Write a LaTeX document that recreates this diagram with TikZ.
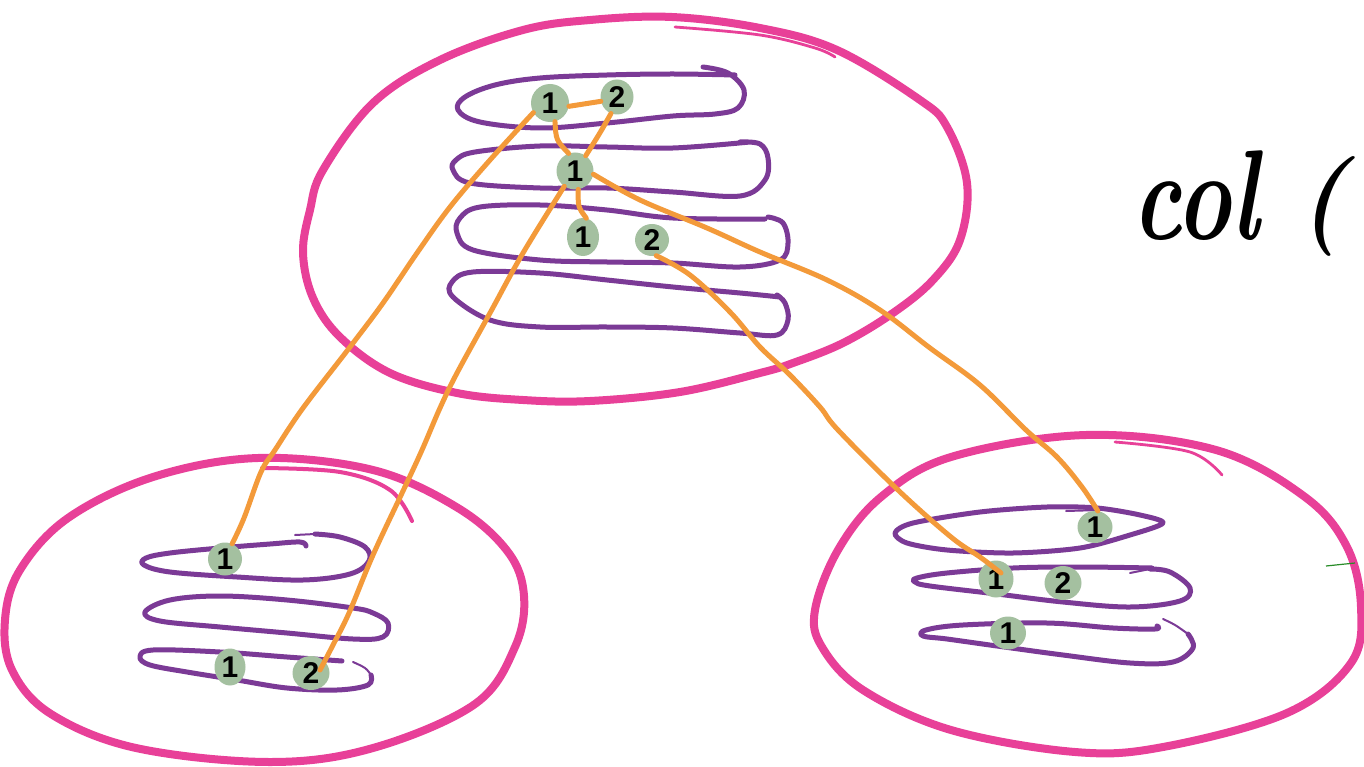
\documentclass[tikz,border=0pt]{standalone}
\usepackage{fontspec}
\newfontfamily\digitfont{Liberation Sans}
\usetikzlibrary{shapes.geometric,calc}
\definecolor{ringpink}{RGB}{232,64,152}
\definecolor{coilpurple}{RGB}{123,58,150}
\definecolor{linkorange}{RGB}{243,154,58}
\definecolor{dotgreen}{RGB}{164,192,160}
\definecolor{tickgreen}{RGB}{40,140,40}
% digit drawn without widening its dot
\newcommand\dotdigit[1]{\makebox[0pt]{\raisebox{-0.36em}[0pt][0pt]{#1}}}

\begin{document}
\begin{tikzpicture}[x=1pt,y=-1pt,
  ring/.style={draw=ringpink, line width=8pt, line cap=round, line join=round},
  ringthin/.style={draw=ringpink, line width=2.8pt, line cap=round},
  coil/.style={draw=coilpurple, line width=5pt, line cap=round, line join=round},
  coilthin/.style={draw=coilpurple, line width=2pt, line cap=round},
  link/.style={draw=linkorange, line width=5pt, line cap=round, line join=round},
  dot/.style={ellipse, fill=dotgreen, inner sep=0pt,
    font=\digitfont\bfseries\fontsize{30}{30}\selectfont},
]
\useasboundingbox (0,0) rectangle (1364,767);
\fill[white] (0,0) rectangle (1364,767);

% ---- pink rings ----
\draw[ring] plot[smooth cycle, tension=.6] coordinates {
  (303,253) (310,210) (323,170) (373,103) (440,60) (523,30) (590,20) (672,17)
  (760,28) (837,50) (920,100) (947,127) (967,183) (960,240) (933,280) (893,313)
  (843,343) (793,363) (760,373) (680,392) (590,401) (523,400) (457,393) (390,373)
  (340,337) (313,298)};
\draw[ringthin] plot[smooth, tension=.6] coordinates {(675,27) (760,35) (815,48) (835,57)};

\draw[ring] plot[smooth cycle, tension=.6] coordinates {
  (5,620) (20,570) (68,518) (153,477) (258,458) (373,470) (458,508) (508,552)
  (524,596) (515,647) (475,704) (373,748) (270,762) (136,748) (51,714) (12,670)};
\draw[ringpink, line width=4pt, line cap=round] plot[smooth, tension=.6]
  coordinates {(262,468) (340,472) (390,490) (412,521)};

\draw[ring] plot[smooth cycle, tension=.6] coordinates {
  (815,610) (838,550) (881,497) (951,457) (1086,435) (1216,450) (1305,497)
  (1347,547) (1361,607) (1351,663) (1287,713) (1163,747) (1075,752) (951,730)
  (863,690) (822,647)};
\draw[ringthin] plot[smooth, tension=.6] coordinates {(1115,442) (1190,452) (1222,475)};

\draw[tickgreen, line width=1.2pt] (1326,566) -- (1355,563);

% ---- purple coils, top group ----
\draw[coil] plot[smooth, tension=.6] coordinates {(703,67) (728,73) (744,90) (738,108)
  (715,114) (673,116) (607,123) (540,128) (480,122) (458,110) (465,97) (495,85)
  (540,78) (607,75) (673,74) (735,75)};
\draw[coil] plot[smooth, tension=.6] coordinates {(740,142) (760,144) (768,158) (765,180)
  (740,196) (673,192) (607,188) (540,188) (470,183) (453,170) (456,160) (475,152)
  (540,146) (607,147) (673,148) (750,142)};
\draw[coil] plot[smooth, tension=.6] coordinates {(768,217) (783,223) (788,243) (780,260)
  (740,267) (673,263) (607,262) (540,260) (473,250) (457,233) (460,218) (480,207)
  (540,205) (607,210) (673,218) (765,219)};
\draw[coil] plot[smooth, tension=.6] coordinates {(777,295) (785,303) (788,320) (777,335)
  (740,333) (673,328) (607,327) (540,327) (490,320) (453,297) (452,282) (473,272)
  (540,273) (607,280) (673,287) (740,293) (780,297)};

% ---- purple coils, lower left group ----
\draw[coil] plot[smooth, tension=.6] coordinates {(306,546) (300,542) (270,544) (220,548)
  (170,553) (146,558) (144,565) (170,572) (237,577) (303,580) (350,574) (369,561)
  (365,547) (340,537) (315,534)};
\draw[coilthin] (315,534) -- (295,535);
\draw[coil] plot[smooth cycle, tension=.6] coordinates {(373,613) (353,608) (287,600)
  (220,596) (170,600) (145,612) (160,621) (220,627) (287,633) (353,639) (383,637) (388,623)};
\draw[coil] plot[smooth, tension=.6] coordinates {(342,661) (287,657) (220,652) (153,650)
  (140,657) (150,665) (187,672) (237,680) (287,688) (337,690) (368,685) (371,675)};
\draw[coilthin] plot[smooth, tension=.6] coordinates {(371,675) (365,668) (353,662)};

% ---- purple coils, lower right group ----
\draw[coil] plot[smooth cycle, tension=.5] coordinates {(1163,523) (1140,515) (1097,508)
  (1047,507) (980,512) (913,523) (895,533) (907,543) (947,550) (1013,553) (1080,548)
  (1130,535)};
\draw[coilthin] (1066,511) -- (1100,510);
\draw[coil] plot[smooth, tension=.6] coordinates {(1152,568) (1080,567) (1013,568)
  (947,573) (917,578) (915,582) (930,586) (997,594) (1063,602) (1130,607) (1180,601)
  (1190,588) (1170,572) (1150,569)};
\draw[coilthin] (1150,569) -- (1130,573);
\draw[coil] plot[smooth, tension=.6] coordinates {(1157,626) (1155,629) (1113,628)
  (1047,623) (963,625) (926,630) (923,636) (947,639) (997,646) (1063,655) (1130,663)
  (1173,662) (1193,648) (1188,634)};
\draw[coilthin] plot[smooth, tension=.6] coordinates {(1188,634) (1175,625) (1163,619)};

% ---- green dots ----
\node[dot, minimum width=38, minimum height=38] (A) at (550,103) {\dotdigit{1}};
\node[dot, minimum width=33, minimum height=35] (B) at (617,97)  {\dotdigit{2}};
\node[dot, minimum width=37, minimum height=37] (C) at (575,171) {\dotdigit{1}};
\node[dot, minimum width=32, minimum height=38] (D) at (583,237) {\dotdigit{1}};
\node[dot, minimum width=34, minimum height=32] (E) at (652,240) {\dotdigit{2}};
\node[dot, minimum width=34, minimum height=33] (F) at (225,559) {\dotdigit{1}};
\node[dot, minimum width=31, minimum height=37] (G) at (230,667) {\dotdigit{1}};
\node[dot, minimum width=37, minimum height=34] (H) at (311,673) {\dotdigit{2}};
\node[dot, minimum width=35, minimum height=32] (J) at (1095,527) {\dotdigit{1}};
\node[dot, minimum width=35, minimum height=37] (K) at (996,579) {\dotdigit{1}};
\node[dot, minimum width=37, minimum height=34] (L) at (1063,583) {\dotdigit{2}};
\node[dot, minimum width=36, minimum height=33] (M) at (1008,633) {\dotdigit{1}};

\coordinate (Hend) at ($(H.center)+(9,-3)$);
\coordinate (Kend) at ($(K.center)+(5,-6)$);

% ---- orange links ----
\draw[link] (A.350) -- (B.195);
\draw[link] (A.285) .. controls (556,140) .. (C.110);
\draw[link] (B.250) .. controls (600,133) .. (C.55);
\draw[link] (C.280) .. controls (578,207) .. (D.80);
\draw[link] plot[smooth, tension=.6] coordinates {(A.210) (490,160) (450,207) (417,253)
  (383,303) (350,347) (303,408) (275,450) (261,472) (244,518) (F.65)};
\draw[link] plot[smooth, tension=.6] coordinates {(C.235) (523,253) (490,313) (457,373)
  (440,408) (422,450) (403,491) (373,555) (349,613) (333,645) (Hend)};
\draw[link] plot[smooth, tension=.6] coordinates {(C.350) (640,200) (707,228) (760,252)
  (827,280) (880,310) (930,348) (980,385) (1026,430) (1057,457) (1082,487) (J.80)};
\draw[link] plot[smooth, tension=.6] coordinates {(E.285) (690,275) (730,312) (760,347)
  (790,375) (820,407) (838,430) (898,490) (951,537) (980,557) (Kend)};

% ---- handwritten caption ----
\node[anchor=base west, inner sep=0pt,
  font=\bfseries\itshape\fontsize{100}{100}\selectfont] (caption) at (1132,240)
  {\scalebox{0.93}[1.28]{col}\hspace{0.4em}\raisebox{8pt}{(}};
\end{tikzpicture}
\end{document}
